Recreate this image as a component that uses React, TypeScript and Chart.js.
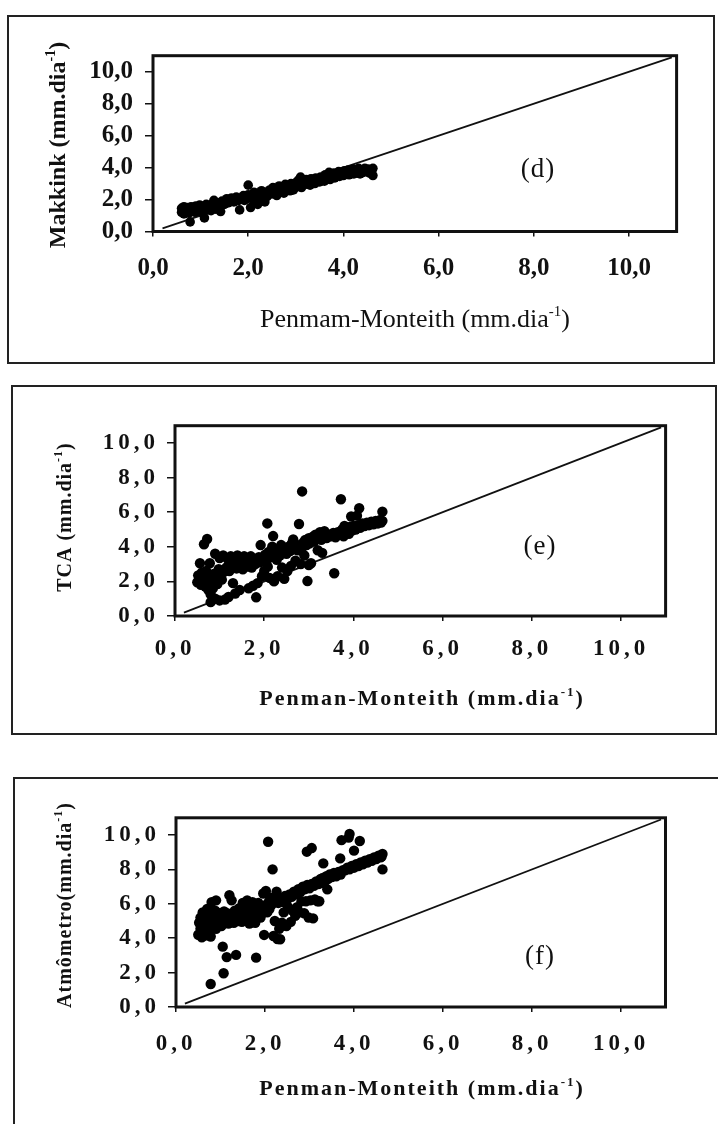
import React, { useEffect, useRef } from "react";
import { Chart, registerables } from "chart.js";

Chart.register(...registerables);

// ---------- data ----------
const TICK_VALUES = [0, 2, 4, 6, 8, 10];
const TICK_LABELS = ["0,0", "2,0", "4,0", "6,0", "8,0", "10,0"];
const AXIS_RANGE = [0, 11];
const ONE_TO_ONE = [0.2, 10.9];

// (d) Makkink vs Penman-Monteith
const pmD = [
  0.60, 0.60, 0.62, 0.65, 0.65, 0.68, 0.70, 0.72, 0.75, 0.75,
  0.78, 0.80, 0.82, 0.85, 0.88, 0.90, 0.92, 0.95, 0.98, 1.00,
  1.02, 1.05, 1.08, 1.10, 1.12, 1.15, 1.20, 1.22, 1.25, 1.28,
  1.30, 1.32, 1.35, 1.40, 1.42, 1.45, 1.50, 1.55, 1.58, 1.60,
  1.65, 1.70, 1.72, 1.75, 1.80, 1.82, 1.85, 1.90, 1.92, 1.95,
  2.00, 2.00, 2.02, 2.05, 2.08, 2.10, 2.12, 2.15, 2.20, 2.20,
  2.25, 2.28, 2.30, 2.35, 2.38, 2.40, 2.45, 2.50, 2.52, 2.55,
  2.60, 2.62, 2.65, 2.70, 2.72, 2.75, 2.78, 2.80, 2.85, 2.88,
  2.90, 2.92, 2.95, 3.00, 3.02, 3.05, 3.08, 3.10, 3.12, 3.15,
  3.20, 3.22, 3.25, 3.30, 3.32, 3.35, 3.40, 3.42, 3.45, 3.50,
  3.52, 3.55, 3.60, 3.62, 3.65, 3.70, 3.72, 3.75, 3.80, 3.82,
  3.85, 3.90, 3.92, 3.95, 4.00, 4.02, 4.05, 4.10, 4.12, 4.15,
  4.20, 4.22, 4.25, 4.30, 4.32, 4.35, 4.40, 4.42, 4.45, 4.50,
  4.52, 4.55, 4.60, 4.62, 4.62,
];
const makkink = [
  1.20, 1.45, 1.30, 1.55, 1.10, 1.35, 1.25, 1.50, 1.40, 1.15,
  0.60, 1.55, 1.30, 1.45, 1.20, 1.60, 1.40, 1.30, 1.65, 1.50,
  1.20, 1.60, 0.85, 1.45, 1.70, 1.35, 1.55, 1.30, 1.75, 1.95,
  1.60, 1.40, 1.80, 1.65, 1.25, 1.90, 1.70, 2.05, 1.80, 1.95,
  2.10, 1.85, 2.00, 2.15, 1.95, 1.35, 2.10, 2.25, 1.95, 2.05,
  2.90, 2.30, 2.10, 1.50, 2.25, 2.00, 2.45, 2.20, 1.70, 2.40,
  2.10, 2.55, 2.30, 1.85, 2.45, 2.20, 2.60, 2.35, 2.75, 2.50,
  2.25, 2.65, 2.85, 2.50, 2.70, 2.40, 2.95, 2.65, 2.85, 2.55,
  3.00, 2.75, 2.60, 3.05, 2.80, 3.20, 2.95, 3.40, 2.75, 3.10,
  2.95, 3.25, 3.05, 2.90, 3.30, 3.15, 3.00, 3.35, 3.20, 3.10,
  3.40, 3.25, 3.15, 3.55, 3.35, 3.70, 3.25, 3.50, 3.65, 3.35,
  3.55, 3.75, 3.45, 3.65, 3.50, 3.80, 3.60, 3.85, 3.55, 3.70,
  3.90, 3.60, 3.80, 3.70, 3.95, 3.60, 3.85, 3.70, 3.95, 3.75,
  3.90, 3.65, 3.85, 3.95, 3.50,
];

// (e) TCA vs Penman-Monteith
const pmE = [
  0.50, 0.52, 0.55, 0.56, 0.58, 0.60, 0.62, 0.65, 0.65, 0.68,
  0.70, 0.72, 0.72, 0.75, 0.78, 0.78, 0.80, 0.80, 0.82, 0.85,
  0.88, 0.90, 0.90, 0.92, 0.95, 0.98, 1.00, 1.00, 1.02, 1.05,
  1.08, 1.10, 1.12, 1.15, 1.18, 1.20, 1.22, 1.25, 1.28, 1.30,
  1.32, 1.35, 1.38, 1.40, 1.42, 1.45, 1.48, 1.50, 1.52, 1.55,
  1.58, 1.60, 1.62, 1.65, 1.68, 1.70, 1.72, 1.75, 1.78, 1.80,
  1.82, 1.85, 1.88, 1.90, 1.92, 1.95, 1.98, 2.00, 2.02, 2.05,
  2.07, 2.08, 2.10, 2.12, 2.15, 2.18, 2.20, 2.22, 2.25, 2.28,
  2.30, 2.32, 2.35, 2.38, 2.40, 2.42, 2.45, 2.48, 2.50, 2.52,
  2.55, 2.58, 2.60, 2.62, 2.65, 2.68, 2.70, 2.72, 2.75, 2.78,
  2.80, 2.82, 2.85, 2.85, 2.88, 2.90, 2.92, 2.95, 2.97, 3.00,
  3.00, 3.02, 3.05, 3.08, 3.10, 3.12, 3.15, 3.18, 3.20, 3.22,
  3.25, 3.28, 3.30, 3.32, 3.35, 3.40, 3.45, 3.50, 3.55, 3.57,
  3.60, 3.65, 3.70, 3.72, 3.75, 3.78, 3.80, 3.82, 3.85, 3.90,
  3.92, 3.95, 3.98, 4.00, 4.05, 4.08, 4.10, 4.13, 4.15, 4.20,
  4.25, 4.30, 4.35, 4.40, 4.45, 4.50, 4.55, 4.60, 4.62, 4.65,
  4.65,
];
const tca = [
  1.95, 2.35, 2.15, 3.05, 1.80, 2.50, 2.00, 4.15, 2.25, 1.70,
  2.60, 4.45, 1.95, 1.50, 3.05, 2.30, 1.25, 0.80, 2.05, 1.60,
  2.45, 3.60, 1.00, 2.15, 1.85, 2.70, 3.35, 0.90, 2.40, 2.10,
  3.50, 2.55, 0.95, 2.80, 3.30, 1.10, 2.60, 3.45, 2.85, 1.90,
  3.15, 1.30, 2.75, 3.50, 3.00, 1.50, 2.90, 3.30, 2.70, 3.45,
  3.10, 2.85, 3.35, 1.60, 3.00, 3.45, 2.80, 1.75, 3.20, 3.00,
  1.08, 1.90, 3.40, 3.10, 4.10, 2.30, 3.30, 2.60, 3.55, 3.20,
  5.35, 2.85, 3.70, 2.20, 3.40, 4.00, 4.62, 2.00, 3.60, 3.25,
  2.30, 3.85, 3.50, 4.10, 2.80, 3.70, 2.15, 3.95, 3.60, 2.60,
  4.00, 3.75, 2.90, 4.20, 4.43, 3.85, 3.20, 4.05, 3.80, 5.32,
  4.10, 3.00, 7.20, 3.95, 4.25, 3.50, 4.40, 4.10, 2.02, 4.50,
  2.95, 4.20, 3.05, 4.35, 4.60, 4.30, 4.70, 4.45, 3.80, 4.55,
  4.85, 4.40, 3.65, 4.65, 4.90, 4.50, 4.70, 4.60, 4.80, 2.47,
  4.55, 4.85, 4.70, 6.75, 5.00, 4.60, 5.20, 4.85, 5.00, 4.75,
  5.15, 5.75, 4.95, 5.20, 5.00, 5.80, 5.25, 6.23, 5.10, 5.35,
  5.20, 5.40, 5.25, 5.45, 5.30, 5.50, 5.35, 5.55, 5.40, 6.03,
  5.50,
];

// (f) Atmometer vs Penman-Monteith
const pmF = [
  0.50, 0.52, 0.55, 0.55, 0.58, 0.60, 0.60, 0.62, 0.65, 0.65,
  0.68, 0.70, 0.72, 0.72, 0.75, 0.78, 0.78, 0.80, 0.80, 0.82,
  0.85, 0.88, 0.90, 0.90, 0.92, 0.95, 0.98, 1.00, 1.02, 1.05,
  1.05, 1.07, 1.08, 1.10, 1.12, 1.14, 1.15, 1.18, 1.20, 1.22,
  1.25, 1.28, 1.30, 1.32, 1.35, 1.35, 1.38, 1.40, 1.42, 1.45,
  1.48, 1.50, 1.52, 1.55, 1.58, 1.60, 1.62, 1.65, 1.68, 1.70,
  1.72, 1.75, 1.78, 1.80, 1.80, 1.82, 1.85, 1.88, 1.90, 1.92,
  1.96, 1.98, 2.00, 2.02, 2.05, 2.07, 2.08, 2.10, 2.12, 2.15,
  2.17, 2.19, 2.20, 2.22, 2.25, 2.26, 2.28, 2.30, 2.32, 2.34,
  2.35, 2.38, 2.40, 2.42, 2.45, 2.48, 2.50, 2.52, 2.55, 2.58,
  2.60, 2.62, 2.65, 2.68, 2.70, 2.72, 2.75, 2.78, 2.80, 2.82,
  2.85, 2.88, 2.90, 2.92, 2.94, 2.95, 2.98, 3.00, 3.02, 3.05,
  3.05, 3.08, 3.10, 3.12, 3.15, 3.18, 3.20, 3.22, 3.25, 3.28,
  3.30, 3.31, 3.35, 3.38, 3.40, 3.42, 3.45, 3.50, 3.55, 3.60,
  3.65, 3.69, 3.70, 3.72, 3.75, 3.80, 3.85, 3.88, 3.90, 3.90,
  3.95, 4.00, 4.00, 4.05, 4.10, 4.13, 4.15, 4.20, 4.25, 4.30,
  4.35, 4.40, 4.45, 4.50, 4.55, 4.60, 4.64, 4.64, 4.62,
];
const atmometro = [
  4.20, 4.90, 4.55, 5.20, 4.05, 4.75, 5.50, 4.35, 5.05, 4.15,
  4.60, 5.70, 4.40, 5.25, 4.85, 1.34, 4.10, 5.40, 6.10, 4.65,
  5.00, 5.60, 6.20, 4.55, 5.20, 4.80, 5.45, 5.05, 4.70, 3.51,
  5.30, 1.96, 5.55, 4.95, 5.20, 2.90, 5.45, 4.85, 6.50, 5.10,
  6.20, 5.35, 4.90, 5.60, 3.03, 5.20, 5.45, 5.00, 5.75, 5.30,
  4.95, 6.05, 5.50, 5.20, 5.65, 6.20, 5.40, 4.85, 5.75, 5.30,
  6.10, 5.55, 4.90, 2.87, 5.80, 5.40, 6.05, 5.60, 5.20, 5.85,
  6.60, 4.19, 5.90, 6.75, 5.50, 9.61, 6.10, 5.70, 6.35, 5.95,
  8.00, 4.13, 6.15, 5.00, 6.40, 6.70, 3.95, 6.05, 4.55, 3.94,
  6.30, 4.90, 6.10, 5.50, 6.45, 4.70, 6.25, 5.80, 6.55, 4.95,
  6.40, 5.60, 6.70, 5.30, 6.55, 5.80, 6.85, 5.50, 6.70, 6.15,
  7.00, 5.45, 6.85, 6.15, 9.03, 7.10, 5.20, 6.90, 6.20, 9.24,
  7.15, 5.15, 7.05, 6.25, 7.30, 6.15, 7.15, 6.15, 7.45, 7.20,
  7.50, 8.35, 7.30, 7.60, 6.84, 7.45, 7.70, 7.55, 7.80, 7.60,
  7.85, 8.64, 7.70, 9.70, 7.95, 7.95, 8.10, 9.85, 10.06, 8.00,
  8.20, 9.09, 8.10, 8.30, 8.20, 9.65, 8.40, 8.30, 8.50, 8.40,
  8.60, 8.50, 8.70, 8.60, 8.80, 8.70, 8.90, 8.00, 8.75,
];

// ---------- layout & styles ----------
type Part = { t: string; sup?: boolean };
type PanelCfg = {
  canvasTop: number;
  canvasH: number;
  plot: { l: number; t: number; r: number; b: number };
  xs: number[];
  ys: number[];
  radius: number;
  tickSize: number;
  tickLS: number;
  xTickPad: number;
  yTickPad: number;
  yTitle: Part[];
  yTitlePos: [number, number];
  yTitleSize: number;
  yTitleLS: number;
  xTitle: Part[];
  xTitlePos: [number, number];
  xTitleSize: number;
  xTitleWeight: string;
  xTitleLS: number;
  tag: string;
  tagPos: [number, number];
  tagSize: number;
};

const FONT = '"Liberation Serif", "Times New Roman", serif';
const INK = "#111";

const PANELS: PanelCfg[] = [
  {
    canvasTop: 0,
    canvasH: 375,
    plot: { l: 153, t: 55.7, r: 676.6, b: 231.5 },
    xs: pmD,
    ys: makkink,
    radius: 4.8,
    tickSize: 25,
    tickLS: 0,
    xTickPad: 17,
    yTickPad: 12,
    yTitle: [{ t: "Makkink (mm.dia" }, { t: "-1", sup: true }, { t: ")" }],
    yTitlePos: [57, 145],
    yTitleSize: 24,
    yTitleLS: 0,
    xTitle: [{ t: "Penmam-Monteith (mm.dia" }, { t: "-1", sup: true }, { t: ")" }],
    xTitlePos: [415, 318],
    xTitleSize: 26,
    xTitleWeight: "normal",
    xTitleLS: 0,
    tag: "(d)",
    tagPos: [538, 168],
    tagSize: 27,
  },
  {
    canvasTop: 375,
    canvasH: 390,
    plot: { l: 175, t: 425.7, r: 665.6, b: 616 },
    xs: pmE,
    ys: tca,
    radius: 5.2,
    tickSize: 23,
    tickLS: 4,
    xTickPad: 14,
    yTickPad: 8,
    yTitle: [{ t: "TCA (mm.dia" }, { t: "-1", sup: true }, { t: ")" }],
    yTitlePos: [64, 517],
    yTitleSize: 20,
    yTitleLS: 1,
    xTitle: [{ t: "Penman-Monteith (mm.dia" }, { t: "-1", sup: true }, { t: ")" }],
    xTitlePos: [422, 698],
    xTitleSize: 22,
    xTitleWeight: "bold",
    xTitleLS: 2,
    tag: "(e)",
    tagPos: [540, 545],
    tagSize: 27,
  },
  {
    canvasTop: 765,
    canvasH: 359,
    plot: { l: 176, t: 817.8, r: 665.5, b: 1007 },
    xs: pmF,
    ys: atmometro,
    radius: 5.2,
    tickSize: 23,
    tickLS: 4,
    xTickPad: 18,
    yTickPad: 8,
    yTitle: [{ t: "Atmômetro(mm.dia" }, { t: "-1", sup: true }, { t: ")" }],
    yTitlePos: [64, 905],
    yTitleSize: 20,
    yTitleLS: 1,
    xTitle: [{ t: "Penman-Monteith (mm.dia" }, { t: "-1", sup: true }, { t: ")" }],
    xTitlePos: [422, 1088],
    xTitleSize: 22,
    xTitleWeight: "bold",
    xTitleLS: 2,
    tag: "(f)",
    tagPos: [540, 955],
    tagSize: 27,
  },
];

const BOXES = [
  { l: 7, t: 15, r: 715, b: 364 },
  { l: 11, t: 385, r: 717, b: 735 },
  { l: 13, t: 777, r: 740, b: 1150 },
];

function drawRich(
  ctx: CanvasRenderingContext2D,
  parts: Part[],
  cx: number,
  cy: number,
  size: number,
  weight: string,
  ls: number,
  rotate: boolean
) {
  ctx.save();
  ctx.translate(cx, cy);
  if (rotate) ctx.rotate(-Math.PI / 2);
  const main = `${weight} ${size}px ${FONT}`;
  const supSize = Math.round(size * 0.58);
  const sup = `${weight} ${supSize}px ${FONT}`;
  (ctx as any).letterSpacing = `${ls}px`;
  let total = 0;
  const widths = parts.map((p) => {
    ctx.font = p.sup ? sup : main;
    const w = ctx.measureText(p.t).width;
    total += w;
    return w;
  });
  let x = -total / 2;
  ctx.textAlign = "left";
  ctx.textBaseline = "alphabetic";
  ctx.fillStyle = INK;
  const base = size * 0.33;
  parts.forEach((p, i) => {
    ctx.font = p.sup ? sup : main;
    ctx.fillText(p.t, x, p.sup ? base - size * 0.42 : base);
    x += widths[i];
  });
  ctx.restore();
}

function Panel({ cfg }: { cfg: PanelCfg }) {
  const ref = useRef<HTMLCanvasElement | null>(null);
  useEffect(() => {
    const canvas = ref.current;
    if (!canvas) return;
    const W = 718;
    const Y_AXIS_W = 100;
    const X_AXIS_H = 60;
    const top = cfg.canvasTop;
    const padding = {
      left: cfg.plot.l - Y_AXIS_W,
      top: cfg.plot.t - top,
      right: W - cfg.plot.r,
      bottom: cfg.canvasH - (cfg.plot.b - top) - X_AXIS_H,
    };
    const tickFont = { family: FONT, size: cfg.tickSize, weight: "bold" as const };
    const labelFor = (v: number | string) => {
      const i = TICK_VALUES.indexOf(Number(v));
      return i >= 0 ? TICK_LABELS[i] : "";
    };
    const framePlugin = {
      id: "frame" + top,
      beforeDraw(chart: any) {
        chart.ctx.letterSpacing = `${cfg.tickLS}px`;
      },
      afterDraw(chart: any) {
        const ctx: CanvasRenderingContext2D = chart.ctx;
        const a = chart.chartArea;
        ctx.save();
        (ctx as any).letterSpacing = "0px";
        ctx.strokeStyle = INK;
        ctx.lineWidth = 3;
        ctx.strokeRect(a.left, a.top, a.right - a.left, a.bottom - a.top);
        ctx.restore();
        drawRich(ctx, cfg.yTitle, cfg.yTitlePos[0], cfg.yTitlePos[1] - top, cfg.yTitleSize, "bold", cfg.yTitleLS, true);
        drawRich(ctx, cfg.xTitle, cfg.xTitlePos[0], cfg.xTitlePos[1] - top, cfg.xTitleSize, cfg.xTitleWeight, cfg.xTitleLS, false);
        drawRich(ctx, [{ t: cfg.tag }], cfg.tagPos[0], cfg.tagPos[1] - top, cfg.tagSize, "normal", 1, false);
        (ctx as any).letterSpacing = "0px";
      },
    };
    const chart = new Chart(canvas, {
      type: "scatter",
      data: {
        datasets: [
          {
            type: "line",
            data: ONE_TO_ONE.map((v) => ({ x: v, y: v })),
            borderColor: INK,
            borderWidth: 1.8,
            pointRadius: 0,
            order: 2,
          } as any,
          {
            data: cfg.xs.map((x, i) => ({ x, y: cfg.ys[i] })),
            backgroundColor: "#000",
            borderWidth: 0,
            pointRadius: cfg.radius,
            order: 1,
          },
        ],
      },
      options: {
        animation: false,
        responsive: false,
        devicePixelRatio: 1,
        events: [],
        layout: { padding },
        plugins: { legend: { display: false }, tooltip: { enabled: false } },
        scales: {
          x: {
            type: "linear",
            min: AXIS_RANGE[0],
            max: AXIS_RANGE[1],
            afterFit: (s: any) => {
              s.height = X_AXIS_H;
            },
            afterBuildTicks: (s: any) => {
              s.ticks = TICK_VALUES.map((v) => ({ value: v }));
            },
            ticks: {
              callback: (v: any) => labelFor(v),
              font: tickFont,
              color: INK,
              padding: cfg.xTickPad,
              maxRotation: 0,
              autoSkip: false,
            },
            grid: { drawOnChartArea: false, drawTicks: true, tickLength: 5, color: INK, lineWidth: 1.5 },
            border: { display: false },
          },
          y: {
            type: "linear",
            min: AXIS_RANGE[0],
            max: AXIS_RANGE[1],
            afterFit: (s: any) => {
              s.width = Y_AXIS_W;
            },
            afterBuildTicks: (s: any) => {
              s.ticks = TICK_VALUES.map((v) => ({ value: v }));
            },
            ticks: {
              callback: (v: any) => labelFor(v),
              font: tickFont,
              color: INK,
              padding: cfg.yTickPad,
              autoSkip: false,
            },
            grid: { drawOnChartArea: false, drawTicks: true, tickLength: 8, color: INK, lineWidth: 1.5 },
            border: { display: false },
          },
        },
      },
      plugins: [framePlugin],
    });
    return () => chart.destroy();
  }, [cfg]);
  return (
    <canvas
      ref={ref}
      width={718}
      height={cfg.canvasH}
      style={{ position: "absolute", left: 0, top: cfg.canvasTop, width: 718, height: cfg.canvasH }}
    />
  );
}

export default function App() {
  useEffect(() => {
    document.body.style.margin = "0";
    document.body.style.background = "#fff";
  }, []);
  return (
    <div style={{ position: "relative", width: 718, height: 1124, overflow: "hidden", background: "#fff" }}>
      {BOXES.map((b, i) => (
        <div
          key={i}
          style={{
            position: "absolute",
            left: b.l,
            top: b.t,
            width: b.r - b.l,
            height: b.b - b.t,
            border: "2px solid #222",
            boxSizing: "border-box",
          }}
        />
      ))}
      {PANELS.map((p, i) => (
        <Panel key={i} cfg={p} />
      ))}
    </div>
  );
}
